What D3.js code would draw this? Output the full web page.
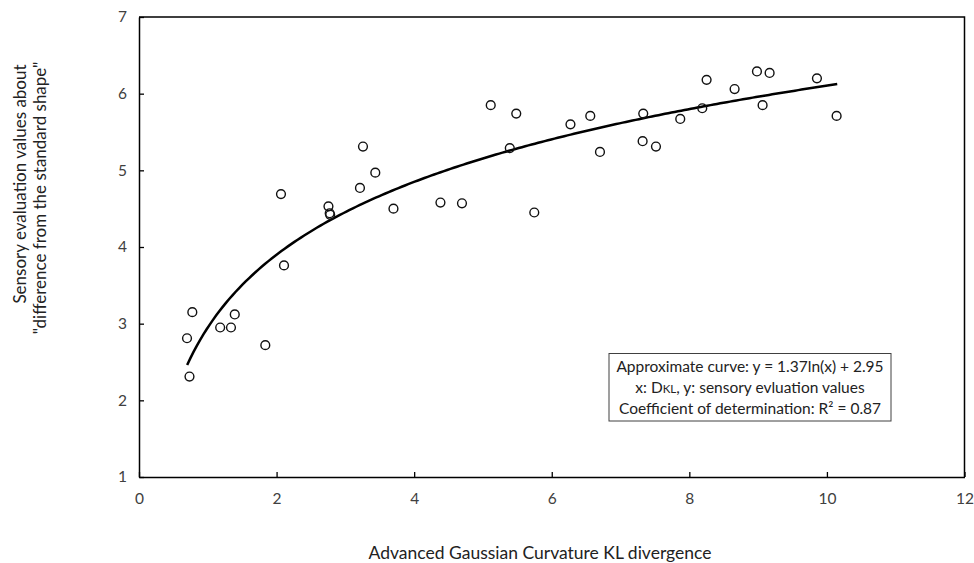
<!DOCTYPE html>
<html>
<head>
<meta charset="utf-8">
<script src="https://cdn.jsdelivr.net/npm/d3@7"></script>
<style>
  html, body { margin: 0; padding: 0; background: #fff; }
  svg { display: block; font-family: Lato, "Open Sans", sans-serif; }
</style>
</head>
<body>
<svg id="chart" width="974" height="563"></svg>
<script>
// ---- data ----
const xValues = [0.775, 0.698, 0.734, 1.180, 1.337, 1.392, 1.836, 2.108, 2.064, 2.754, 2.779, 2.772,
  3.212, 3.435, 3.256, 3.699, 4.382, 4.695, 5.113, 5.484, 5.390, 5.746, 6.272, 6.560, 6.701,
  7.330, 7.321, 7.515, 7.868, 8.188, 8.251, 8.658, 8.983, 9.167, 9.065, 9.855, 10.141];
const yValues = [3.15, 2.81, 2.31, 2.95, 2.95, 3.12, 2.72, 3.76, 4.69, 4.53, 4.42, 4.44,
  4.77, 4.97, 5.31, 4.50, 4.58, 4.57, 5.85, 5.74, 5.29, 4.45, 5.60, 5.71, 5.24,
  5.74, 5.38, 5.31, 5.67, 5.81, 6.18, 6.06, 6.29, 6.27, 5.85, 6.20, 5.71];
const xTicks = [0, 2, 4, 6, 8, 10, 12];
const yTicks = [1, 2, 3, 4, 5, 6, 7];
const fitA = 1.37, fitB = 2.95;          // y = a ln(x) + b
const fitRange = [0.70, 10.15];
const xTitle = "Advanced Gaussian Curvature KL divergence";
const yTitleLines = ["Sensory evaluation values about", "\"difference from the standard shape\""];

// ---- layout ----
const L = 139, R = 964.5, T = 17, B = 477;
const svg = d3.select("#chart");
const x = d3.scaleLinear().domain([0, 12]).range([L, R]);
const y = d3.scaleLinear().domain([1, 7]).range([B, T]);
const textColor = "#404040";

// frame (top & right)
svg.append("path")
  .attr("d", `M${L},${T}H${R}V${B}`)
  .attr("fill", "none").attr("stroke", "#000").attr("stroke-width", 1.5);

// axes
const xAxis = d3.axisBottom(x).tickValues(xTicks).tickFormat(d3.format("d"))
  .tickSizeInner(-5).tickSizeOuter(0).tickPadding(15.5);
const gx = svg.append("g").attr("transform", `translate(0,${B})`).call(xAxis);
const yAxis = d3.axisLeft(y).tickValues(yTicks).tickFormat(d3.format("d"))
  .tickSizeInner(-5).tickSizeOuter(0).tickPadding(12);
const gy = svg.append("g").attr("transform", `translate(${L},0)`).call(yAxis);
[gx, gy].forEach(g => {
  g.select(".domain").attr("stroke", "#000").attr("stroke-width", 1.5);
  g.selectAll(".tick line").attr("stroke", "#000").attr("stroke-width", 1.3);
  g.selectAll(".tick text").attr("fill", textColor)
    .style("font-family", "Lato, 'Open Sans', sans-serif").style("font-size", "15.5px");
});

// fitted curve
const curvePts = d3.range(0, 201).map(i => {
  const xv = fitRange[0] + (fitRange[1] - fitRange[0]) * i / 200;
  return [xv, fitA * Math.log(xv) + fitB];
});
svg.append("path")
  .datum(curvePts)
  .attr("d", d3.line().x(d => x(d[0])).y(d => y(d[1])).curve(d3.curveLinear))
  .attr("fill", "none").attr("stroke", "#000").attr("stroke-width", 2.5);

// points
svg.append("g").selectAll("circle")
  .data(xValues.map((v, i) => [v, yValues[i]]))
  .join("circle")
  .attr("cx", d => x(d[0])).attr("cy", d => y(d[1])).attr("r", 4.4)
  .attr("fill", "none").attr("stroke", "#111").attr("stroke-width", 1.4);

// annotation box
const box = svg.append("g");
box.append("rect").attr("x", 609).attr("y", 353.5).attr("width", 282).attr("height", 67.5)
  .attr("fill", "#fff").attr("stroke", "#404040").attr("stroke-width", 1);
const bt = box.append("text").attr("text-anchor", "middle").attr("fill", "#222")
  .style("font-size", "15.5px");
bt.append("tspan").attr("x", 750).attr("y", 371.5).text("Approximate curve: y = 1.37ln(x) + 2.95");
const l2 = bt.append("tspan").attr("x", 750).attr("y", 392.5);
l2.append("tspan").text("x: D");
l2.append("tspan").style("font-size", "11.5px").text("KL");
l2.append("tspan").text(", y: sensory evluation values");
bt.append("tspan").attr("x", 750).attr("y", 413.5).text("Coefficient of determination: R\u00B2 = 0.87");

// axis titles
svg.append("text").attr("x", 540).attr("y", 559).attr("text-anchor", "middle")
  .attr("fill", "#222").style("font-size", "17.5px").text(xTitle);
svg.append("text").attr("transform", "translate(26,184) rotate(-90)").attr("text-anchor", "middle")
  .attr("fill", "#222").style("font-size", "17px").text(yTitleLines[0]);
svg.append("text").attr("transform", "translate(45.5,198) rotate(-90)").attr("text-anchor", "middle")
  .attr("fill", "#222").style("font-size", "17px").text(yTitleLines[1]);
</script>
</body>
</html>
